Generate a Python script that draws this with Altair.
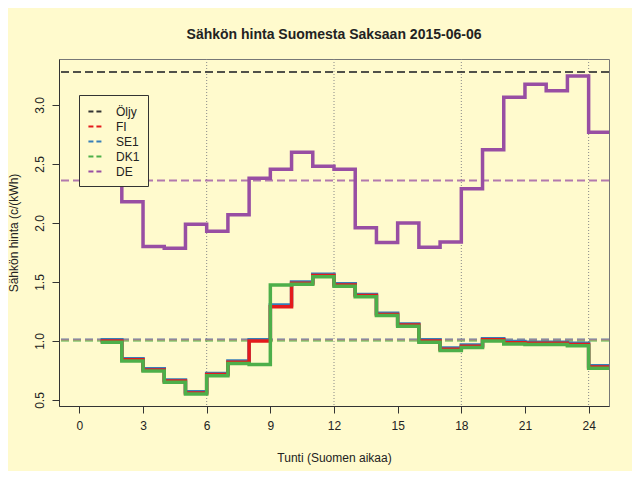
import altair as alt
import pandas as pd

# ---- data ----
hours = list(range(1, 25))
fi = [1.00, 0.84, 0.755, 0.66, 0.56, 0.715, 0.82, 1.00, 1.29, 1.49, 1.555, 1.475,
      1.385, 1.225, 1.135, 1.00, 0.93, 0.955, 1.01, 0.985, 0.98, 0.98, 0.97, 0.78]
se1 = [1.01, 0.85, 0.765, 0.67, 0.57, 0.725, 0.83, 1.01, 1.305, 1.50, 1.565, 1.485,
       1.395, 1.235, 1.145, 1.01, 0.94, 0.965, 1.02, 0.995, 0.99, 0.99, 0.98, 0.79]
dk1 = [0.99, 0.83, 0.745, 0.65, 0.55, 0.705, 0.81, 0.80, 1.475, 1.48, 1.545, 1.465,
       1.375, 1.215, 1.125, 0.99, 0.92, 0.945, 1.00, 0.975, 0.97, 0.97, 0.96, 0.77]
de = [2.75, 2.18, 1.80, 1.785, 1.99, 1.93, 2.07, 2.38, 2.455, 2.60, 2.48, 2.455,
      1.96, 1.835, 2.00, 1.795, 1.84, 2.29, 2.62, 3.065, 3.175, 3.12, 3.245, 2.77]

series_names = ["Öljy", "FI", "SE1", "DK1", "DE"]
series_colors = ["#333333", "#E41A1C", "#377EB8", "#4DAF4A", "#984EA3"]
mean_values = [3.28, 1.01, 1.015, 1.00, 2.36]
mean_opacity = [0.85, 0.5, 0.5, 0.5, 0.75]
grid_hours = [6, 12, 18, 24]
x_ticks = [0, 3, 6, 9, 12, 15, 18, 21, 24]
y_ticks = [0.5, 1.0, 1.5, 2.0, 2.5, 3.0]

title_text = "Sähkön hinta Suomesta Saksaan 2015-06-06"
x_title = "Tunti (Suomen aikaa)"
y_title = "Sähkön hinta (c/(kWh)"

FONT = "Liberation Sans"
BG = "#FFFACD"

# ---- tables ----
rows = []
for name, vals in [("FI", fi), ("SE1", se1), ("DK1", dk1), ("DE", de)]:
    xs = hours + [hours[-1] + 1]
    ys = vals + [vals[-1]]
    for x, y in zip(xs, ys):
        rows.append({"series": name, "hour": x, "price": y})
lines_df = pd.DataFrame(rows)

means_df = pd.DataFrame({"series": series_names, "price": mean_values, "op": mean_opacity})
grid_df = pd.DataFrame({"hour": grid_hours})

x_scale = alt.Scale(domain=[-0.96, 24.96], nice=False, zero=False)
y_scale = alt.Scale(domain=[0.449, 3.39], nice=False, zero=False)

x_axis = alt.Axis(values=x_ticks, format="d", title=x_title, grid=False, tickSize=7,
                  labelPadding=7, labelFont=FONT, labelFontSize=12, labelColor="#222",
                  titleFont=FONT, titleFontSize=12, titleFontWeight="normal", titleColor="#222",
                  titleY=51, titleBaseline="middle", domainColor="#333", tickColor="#333",
                  labelFlush=False)
y_axis = alt.Axis(values=y_ticks, format=".1f", title=y_title, grid=False, tickSize=7,
                  labelAngle=270, labelAlign="center", labelBaseline="bottom", labelPadding=6,
                  labelFont=FONT, labelFontSize=12, labelColor="#222",
                  titleFont=FONT, titleFontSize=12, titleFontWeight="normal", titleColor="#222",
                  titleAngle=270, titleX=-46, titleY=173.5, titleBaseline="middle",
                  titleAlign="center", domainColor="#333", tickColor="#333", labelFlush=False)

color = alt.Color("series:N",
                  scale=alt.Scale(domain=series_names, range=series_colors),
                  legend=alt.Legend(title=None, orient="none", legendX=20, legendY=36,
                                    fillColor=BG, strokeColor="#333", padding=8,
                                    symbolType="stroke", symbolDash=[5, 3],
                                    symbolStrokeWidth=2, symbolSize=200, symbolOpacity=1,
                                    labelFont=FONT, labelFontSize=12, labelColor="#222",
                                    labelOffset=12, rowPadding=0, cornerRadius=0))

grid = alt.Chart(grid_df).mark_rule(color="#888888", strokeDash=[1, 2], strokeWidth=1).encode(
    x=alt.X("hour:Q", scale=x_scale, axis=x_axis)
)

means = alt.Chart(means_df).mark_rule(strokeDash=[8, 4], strokeWidth=2).encode(
    y=alt.Y("price:Q", scale=y_scale, axis=y_axis),
    color=color,
    opacity=alt.Opacity("op:Q", scale=None, legend=None),
)

def step_layer(name):
    return alt.Chart(lines_df).transform_filter(alt.datum.series == name).mark_line(
        interpolate="step-after", strokeWidth=3.5, clip=True
    ).encode(
        x=alt.X("hour:Q", scale=x_scale, axis=x_axis),
        y=alt.Y("price:Q", scale=y_scale, axis=y_axis),
        color=color,
    )

chart = alt.layer(
    grid, means, step_layer("SE1"), step_layer("FI"), step_layer("DK1"), step_layer("DE")
).properties(
    width=550, height=347,
    title=alt.TitleParams(title_text, anchor="middle", frame="group", offset=6,
                          baseline="alphabetic", font=FONT, fontSize=14,
                          fontWeight="bold", color="#222"),
    autosize=alt.AutoSizeParams(type="none"),
    padding={"left": 51, "top": 51, "right": 23, "bottom": 65},
).configure(
    background=BG,
).configure_view(
    fill=BG, stroke="#777777", strokeWidth=1
)

chart.save("out.html", embed_options={"renderer": "svg", "actions": False})
